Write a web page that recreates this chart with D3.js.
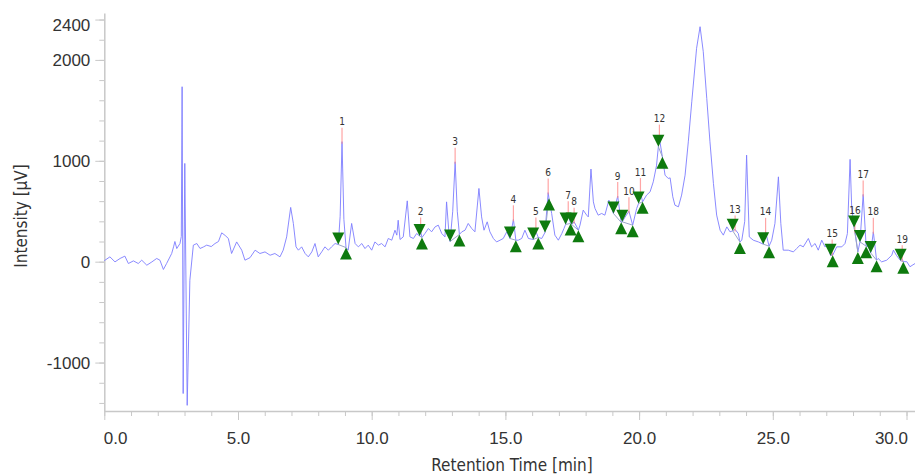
<!DOCTYPE html>
<html>
<head>
<meta charset="utf-8">
<script src="https://cdn.jsdelivr.net/npm/d3@7"></script>
<style>
  body { margin: 0; background: #fff; }
  svg { display: block; font-family: "DejaVu Sans Condensed", "DejaVu Sans", sans-serif; }
</style>
</head>
<body>
<div id="chart"></div>
<script>
// Chromatogram trace: retention time [min] and detector signal [µV]
const retentionTime = [
  0.00, 0.21, 0.40, 0.59, 0.77, 0.90, 1.09, 1.27, 1.40, 1.59,
  1.78, 1.96, 2.08, 2.21, 2.33, 2.52, 2.59, 2.64, 2.71, 2.83,
  2.88, 2.91, 2.95, 3.01, 3.10, 3.20, 3.33, 3.46, 3.58, 3.70,
  3.83, 4.00, 4.14, 4.27, 4.39, 4.52, 4.64, 4.76, 4.95, 5.14,
  5.26, 5.45, 5.64, 5.82, 6.01, 6.20, 6.38, 6.57, 6.69, 6.82,
  6.97, 7.07, 7.17, 7.26, 7.38, 7.51, 7.63, 7.76, 7.88, 8.00,
  8.13, 8.25, 8.38, 8.50, 8.63, 8.75, 8.82, 8.89, 8.96, 9.04,
  9.12, 9.25, 9.38, 9.50, 9.63, 9.75, 9.87, 10.00, 10.12, 10.25,
  10.37, 10.50, 10.62, 10.75, 10.87, 10.94, 10.99, 11.06, 11.18, 11.33,
  11.43, 11.56, 11.68, 11.79, 11.83, 11.88, 11.99, 12.12, 12.24, 12.37,
  12.49, 12.62, 12.74, 12.80, 12.90, 12.93, 13.03, 13.12, 13.20, 13.28,
  13.37, 13.49, 13.61, 13.74, 13.86, 14.01, 14.11, 14.20, 14.32, 14.42,
  14.55, 14.67, 14.80, 14.92, 15.05, 15.17, 15.30, 15.39, 15.48, 15.61,
  15.73, 15.86, 16.04, 16.14, 16.23, 16.36, 16.48, 16.60, 16.63, 16.73,
  16.85, 16.98, 17.11, 17.19, 17.25, 17.35, 17.44, 17.48, 17.57, 17.67,
  17.73, 17.79, 17.91, 18.04, 18.10, 18.20, 18.29, 18.35, 18.47, 18.60,
  18.72, 18.87, 19.04, 19.20, 19.33, 19.37, 19.47, 19.62, 19.76, 19.91,
  19.98, 20.05, 20.13, 20.28, 20.41, 20.53, 20.65, 20.72, 20.76, 20.87,
  20.97, 21.09, 21.16, 21.26, 21.34, 21.47, 21.59, 21.72, 21.84, 21.97,
  22.15, 22.28, 22.40, 22.53, 22.65, 22.78, 22.90, 23.03, 23.15, 23.28,
  23.40, 23.50, 23.59, 23.71, 23.77, 23.84, 23.95, 24.02, 24.12, 24.27,
  24.46, 24.64, 24.73, 24.86, 24.96, 25.08, 25.21, 25.30, 25.39, 25.58,
  25.77, 25.89, 26.02, 26.14, 26.33, 26.45, 26.58, 26.70, 26.83, 26.95,
  27.05, 27.16, 27.22, 27.24, 27.39, 27.58, 27.70, 27.79, 27.89, 27.95,
  28.04, 28.07, 28.18, 28.26, 28.38, 28.49, 28.58, 28.66, 28.76, 28.88,
  28.94, 29.07, 29.26, 29.45, 29.51, 29.63, 29.78, 29.84, 29.88, 30.01,
  30.13, 30.32
];
const intensity = [
  10, 48, -2, 32, 55, -18, 8, -18, 15, -35,
  -2, 32, 15, -77, -18, 81, 147, 200, 130, 180,
  250, 1734, -1307, 974, -1424, -184, 164, 180, 131, 145,
  164, 150, 180, 200, 286, 260, 230, 81, 196, 114,
  15, 40, 114, 81, 97, 64, 81, 48, 114, 246,
  538, 379, 147, 114, 147, 81, 48, 97, 180, 48,
  97, 147, 114, 147, 180, 170, 450, 1190, 420, 140,
  114, 379, 180, 147, 180, 130, 164, 114, 196, 164,
  180, 147, 230, 213, 312, 263, 411, 220, 246, 603,
  246, 230, 279, 255, 300, 240, 279, 329, 296, 345,
  362, 279, 246, 593, 246, 200, 500, 990, 500, 270,
  296, 312, 379, 329, 296, 726, 444, 312, 395, 296,
  230, 196, 213, 230, 296, 230, 420, 213, 213, 230,
  312, 230, 220, 300, 240, 230, 290, 685, 627, 478,
  263, 213, 279, 329, 369, 461, 379, 369, 395, 345,
  312, 362, 511, 461, 444, 918, 593, 528, 461, 478,
  461, 610, 478, 650, 390, 395, 440, 500, 362, 528,
  577, 690, 593, 660, 692, 792, 950, 1139, 1220, 1040,
  858, 825, 831, 643, 560, 544, 660, 858, 1188, 1585,
  2115, 2329, 2081, 1619, 1188, 776, 462, 312, 263, 345,
  296, 306, 320, 279, 196, 213, 400, 1056, 246, 213,
  196, 174, 296, 154, 213, 379, 841, 379, 114, 114,
  97, 130, 164, 147, 230, 147, 180, 114, 213, 147,
  170, 60, 81, 64, 147, 147, 180, 279, 1014, 544,
  339, 306, 97, 196, 667, 154, 150, 87, 296, 15,
  32, -2, 15, 64, 114, 60, 10, 25, 0, 0,
  -50, -18
];

// Integrated peaks
const peakLabels = ["1", "2", "3", "4", "5", "6", "7", "8", "9", "10",
  "11", "12", "13", "14", "15", "16", "17", "18", "19"];
const peakStartTime = [8.75, 11.79, 12.93, 15.17, 16.04, 16.48, 17.25, 17.48, 19.04, 19.37,
  19.98, 20.72, 23.50, 24.64, 27.16, 28.04, 28.26, 28.66, 29.78];
const peakStartValue = [170, 255, 200, 230, 220, 290, 369, 369, 478, 395,
  577, 1139, 306, 174, 60, 339, 196, 87, 10];
const peakApexTime = [8.89, 11.83, 13.12, 15.30, 16.14, 16.60, 17.35, 17.57, 19.20, 19.62,
  20.05, 20.76, 23.59, 24.73, 27.22, 28.07, 28.38, 28.76, 29.84];
const peakApexValue = [1190, 300, 990, 420, 300, 685, 461, 395, 650, 500,
  690, 1220, 320, 296, 81, 306, 667, 296, 25];
const peakEndTime = [9.04, 11.88, 13.28, 15.39, 16.23, 16.63, 17.44, 17.73, 19.33, 19.76,
  20.13, 20.87, 23.77, 24.86, 27.24, 28.18, 28.49, 28.88, 29.88];
const peakEndValue = [140, 240, 270, 213, 240, 627, 379, 312, 390, 362,
  593, 1040, 196, 154, 64, 97, 154, 15, 0];

// Axis ticks
const xTickLabels = [0, 5, 10, 15, 20, 25, 30];
const yTickLabels = [-1000, 0, 1000, 2000, 2400];

const width = 915, height = 474;
const axisColor = "#c8c8c8";
const textColor = "#333";

const svg = d3.select("#chart").append("svg")
  .attr("width", width)
  .attr("height", height);

const x = d3.scaleLinear().domain([0, 30.35]).range([104.3, 104.3 + 30.35 * 26.74]);
const y = d3.scaleLinear().domain([-1480, 2465]).range([411, 13]);

// minor ticks
svg.append("g")
  .attr("transform", `translate(${x(0)},0)`)
  .call(d3.axisLeft(y).tickValues(d3.range(-1400, 2401, 200)).tickSize(5).tickSizeOuter(0).tickFormat(""))
  .call(g => g.select(".domain").remove());
svg.append("g")
  .attr("transform", `translate(0,${y(-1480)})`)
  .call(d3.axisBottom(x).tickValues(d3.range(0, 31, 1)).tickSize(5).tickSizeOuter(0).tickFormat(""))
  .call(g => g.select(".domain").remove());

// major ticks with labels
const yAxis = svg.append("g")
  .attr("transform", `translate(${x(0)},0)`)
  .call(d3.axisLeft(y).tickValues(yTickLabels).tickSize(9).tickPadding(5).tickSizeOuter(0).tickFormat(d => String(d)));
const xAxis = svg.append("g")
  .attr("transform", `translate(0,${y(-1480)})`)
  .call(d3.axisBottom(x).tickValues(xTickLabels).tickSize(9).tickPadding(12).tickSizeOuter(0).tickFormat(d3.format(".1f")));

svg.selectAll(".tick line").style("stroke", axisColor);
svg.selectAll(".domain").style("stroke", axisColor).style("stroke-width", "1.5px");
svg.selectAll(".tick text")
  .style("fill", textColor)
  .style("font-size", "17px")
  .style("font-family", "inherit");

// keep end labels inside the frame
xAxis.selectAll(".tick text").filter(d => d === 0).attr("text-anchor", "start").attr("x", -1);
xAxis.selectAll(".tick text").filter(d => d === 30).attr("text-anchor", "end").attr("x", 1);
yAxis.selectAll(".tick text").filter(d => d === 2400).attr("dy", "0.62em");

// axis titles
svg.append("text")
  .attr("transform", `translate(27, 216) rotate(-90)`)
  .attr("text-anchor", "middle")
  .style("font-size", "17px")
  .style("fill", textColor)
  .text("Intensity [µV]");

svg.append("text")
  .attr("x", 512)
  .attr("y", 471)
  .attr("text-anchor", "middle")
  .style("font-size", "17px")
  .style("fill", textColor)
  .text("Retention Time [min]");

// trace
const line = d3.line()
  .x((d, i) => x(retentionTime[i]))
  .y(d => y(d));

svg.append("path")
  .datum(intensity)
  .attr("d", line)
  .style("fill", "none")
  .style("stroke", "#7d7dff")
  .style("stroke-width", "0.9px")
  .style("stroke-linejoin", "round");

// peak baselines
const peaks = peakLabels.map((label, i) => ({
  label,
  t0: peakStartTime[i], v0: peakStartValue[i],
  ta: peakApexTime[i], va: peakApexValue[i],
  t1: peakEndTime[i], v1: peakEndValue[i]
}));

svg.append("g").selectAll("line")
  .data(peaks)
  .join("line")
  .attr("x1", d => x(d.t0)).attr("y1", d => y(d.v0))
  .attr("x2", d => x(d.t1)).attr("y2", d => y(d.v1))
  .style("stroke", "#9aa6c8")
  .style("stroke-width", "1px");

// apex markers and labels
svg.append("g").selectAll("line")
  .data(peaks)
  .join("line")
  .attr("x1", d => x(d.ta)).attr("x2", d => x(d.ta))
  .attr("y1", d => y(d.va) - 14).attr("y2", d => y(d.va) + 2)
  .style("stroke", "#ff8f8f")
  .style("stroke-width", "1.2px")
  .style("opacity", 0.8);

svg.append("g").selectAll("text")
  .data(peaks)
  .join("text")
  .attr("x", d => x(d.ta))
  .attr("y", d => y(d.va) - 20)
  .attr("dy", "0.35em")
  .attr("text-anchor", "middle")
  .style("font-size", "10px")
  .style("fill", textColor)
  .text(d => d.label);

// start (down) and end (up) triangles
const triW = 6, triH = 12;
svg.append("g").selectAll("path")
  .data(peaks)
  .join("path")
  .attr("transform", d => `translate(${x(d.t0)},${y(d.v0)})`)
  .attr("d", `M${-triW},${-triH}L${triW},${-triH}L0,0Z`)
  .style("fill", "#0e7a0e");

svg.append("g").selectAll("path")
  .data(peaks)
  .join("path")
  .attr("transform", d => `translate(${x(d.t1)},${y(d.v1)})`)
  .attr("d", `M${-triW},${triH}L${triW},${triH}L0,0Z`)
  .style("fill", "#0e7a0e");
</script>
</body>
</html>
